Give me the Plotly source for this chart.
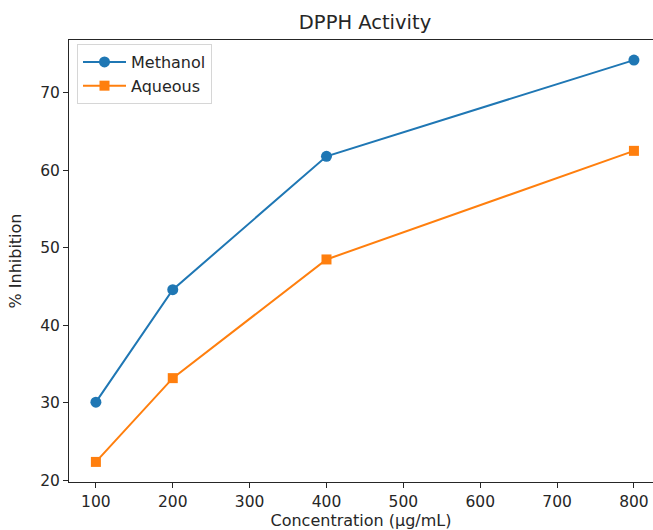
import plotly.graph_objects as go

concentration = [100, 200, 400, 800]
methanol = [30.1, 44.6, 61.8, 74.2]
aqueous = [22.4, 33.2, 48.5, 62.5]
x_ticks = [100, 200, 300, 400, 500, 600, 700, 800]
y_ticks = [20, 30, 40, 50, 60, 70]

font = "DejaVu Sans, Liberation Sans, sans-serif"

fig = go.Figure()
fig.add_trace(go.Scatter(x=concentration, y=methanol, name="Methanol", mode="lines+markers",
                         legendgroup="m",
                         line=dict(color="#1f77b4", width=2),
                         marker=dict(symbol="circle", size=11, color="#1f77b4")))
fig.add_trace(go.Scatter(x=concentration, y=aqueous, name="Aqueous", mode="lines+markers",
                         legendgroup="a",
                         line=dict(color="#ff7f0e", width=2),
                         marker=dict(symbol="square", size=10, color="#ff7f0e")))

fig.update_layout(
    width=653, height=530,
    margin=dict(l=69, r=0, t=40.3, b=47.5),
    paper_bgcolor="white", plot_bgcolor="white",
    font=dict(family=font, size=16, color="#262626"),
    title=dict(text="DPPH Activity", x=0.559, xref="container", xanchor="center",
               y=0.9585, yref="container", yanchor="middle",
               font=dict(size=19.5, color="#262626")),
    showlegend=True,
    legend=dict(x=0.0137, y=0.991, xanchor="left", yanchor="top",
                bordercolor="#d6d6d6", borderwidth=1, bgcolor="rgba(255,255,255,0.8)",
                font=dict(size=16), tracegroupgap=0, itemwidth=43),
    xaxis=dict(range=[65, 824.8], tickvals=x_ticks, ticks="outside", ticklen=5,
               tickcolor="#262626", showline=True, linecolor="#262626", linewidth=1,
               mirror=True, showgrid=False, zeroline=False, tickfont=dict(size=15.5),
               title=dict(text="Concentration (µg/mL)", standoff=5, font=dict(size=16))),
    yaxis=dict(range=[19.81, 76.79], tickvals=y_ticks, ticks="outside", ticklen=5,
               tickcolor="#262626", showline=True, linecolor="#262626", linewidth=1,
               mirror=False, showgrid=False, zeroline=False, tickfont=dict(size=15.5),
               title=dict(text="% Inhibition", standoff=14, font=dict(size=16))),
)

fig.write_html("out.html", config={"displayModeBar": False},
               post_script="document.body.style.margin='0';document.body.style.overflow='hidden';")
